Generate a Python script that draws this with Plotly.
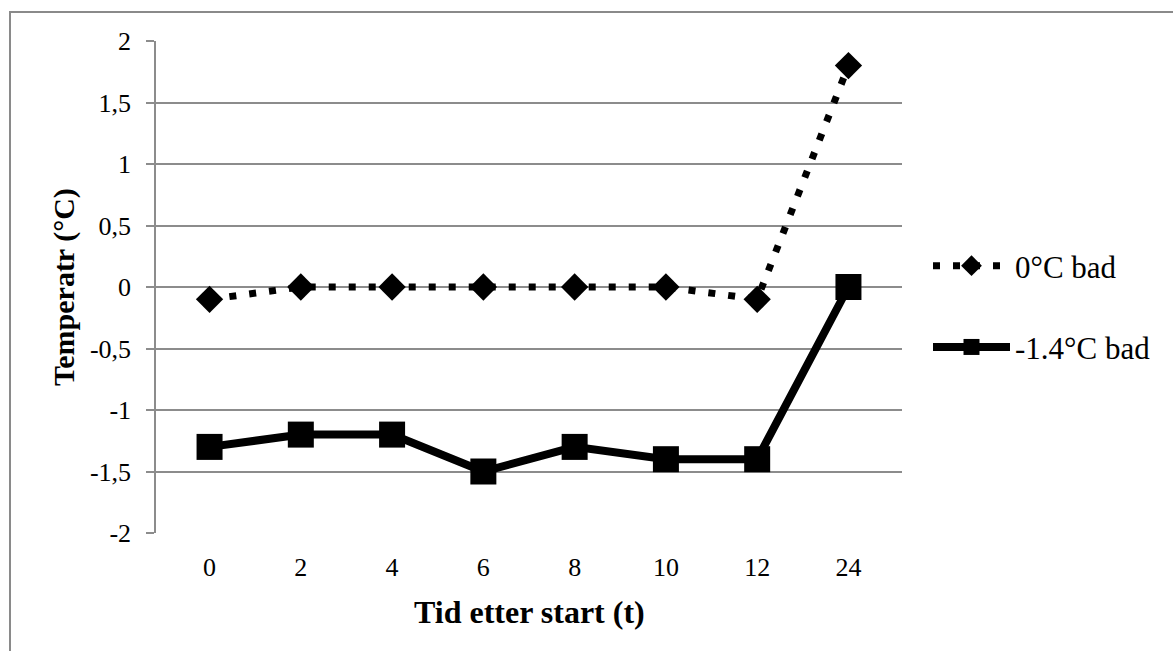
import plotly.graph_objects as go

# Time after start (hours) as category labels
tid = ["0", "2", "4", "6", "8", "10", "12", "24"]
bad_0 = [-0.1, 0, 0, 0, 0, 0, -0.1, 1.8]
bad_m14 = [-1.3, -1.2, -1.2, -1.5, -1.3, -1.4, -1.4, 0]
y_ticks = [-2, -1.5, -1, -0.5, 0, 0.5, 1, 1.5, 2]
y_labels = ["-2", "-1,5", "-1", "-0,5", "0", "0,5", "1", "1,5", "2"]

W, H = 1173, 651
L, R, T, B = 156, 271, 41, 118
pw, ph = W - L - R, H - T - B

grid = "#8c8c8c"
serif = "Liberation Serif, Times New Roman, serif"

fig = go.Figure()
fig.add_trace(go.Scatter(
    x=tid, y=bad_0, name="0°C bad", mode="lines+markers", legendgroup="a",
    line=dict(color="black", width=7, dash="7px,13px"),
    marker=dict(symbol="diamond", size=21, color="black"),
))
fig.add_trace(go.Scatter(
    x=tid, y=bad_m14, name="-1.4°C bad", mode="lines+markers", legendgroup="b",
    line=dict(color="black", width=8),
    marker=dict(symbol="square", size=26, color="black"),
))

# pixel -> paper coordinate helpers
def px_x(p):
    return (p - L) / pw

def px_y(p):
    return (H - B - p) / ph

# outer frame around the chart area
fig.add_shape(type="rect", xref="paper", yref="paper",
              x0=px_x(10), x1=px_x(1185), y0=px_y(12), y1=px_y(670),
              line=dict(color="#8a8a8a", width=2), fillcolor="rgba(0,0,0,0)",
              layer="below")

# axis titles
fig.add_annotation(text="<b>Temperatr (°C)</b>", xref="paper", yref="paper",
                   x=px_x(64), y=0.5, xanchor="center", yanchor="middle",
                   textangle=-90, showarrow=False,
                   font=dict(size=30, family=serif, color="black"))
fig.add_annotation(text="<b>Tid etter start (t)</b>", xref="paper", yref="paper",
                   x=0.5, y=px_y(612), xanchor="center", yanchor="middle",
                   showarrow=False,
                   font=dict(size=32, family=serif, color="black"))

fig.update_layout(
    width=W, height=H,
    margin=dict(l=L, r=R, t=T, b=B),
    paper_bgcolor="white", plot_bgcolor="white",
    font=dict(family=serif, color="black"),
    showlegend=True,
    legend=dict(x=px_x(928), y=px_y(239), xanchor="left", yanchor="top",
                font=dict(size=31, family=serif), tracegroupgap=38,
                traceorder="grouped", itemwidth=77, bgcolor="rgba(0,0,0,0)"),
    xaxis=dict(
        type="category", categoryorder="array", categoryarray=tid,
        showgrid=False, showline=False, zeroline=False, ticks="",
        tickfont=dict(size=26, family=serif), ticklabelstandoff=16,
    ),
    yaxis=dict(
        range=[-2, 2], tickvals=y_ticks, ticktext=y_labels,
        showgrid=True, gridcolor=grid, gridwidth=1.5,
        showline=True, linecolor=grid, linewidth=1.5, zeroline=False,
        ticks="outside", ticklen=8, tickcolor=grid, tickwidth=1.5,
        tickfont=dict(size=26, family=serif), ticklabelstandoff=10,
    ),
)

fig.write_html("out.html")
